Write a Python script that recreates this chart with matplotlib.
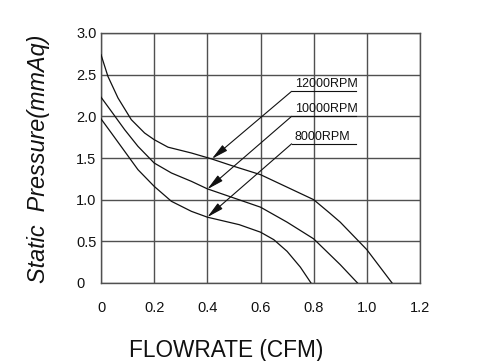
import matplotlib.pyplot as plt

plt.rcParams['font.family'] = ['Liberation Sans', 'DejaVu Sans']

# curve data (flowrate CFM, static pressure mmAq)
x_12000 = [0, 0.026, 0.064, 0.114, 0.164, 0.2, 0.252, 0.34, 0.415, 0.5, 0.6, 0.7, 0.8, 0.86, 0.9, 1.0, 1.095]
p_12000 = [2.74, 2.48, 2.22, 1.96, 1.80, 1.72, 1.63, 1.56, 1.49, 1.40, 1.30, 1.15, 1.00, 0.84, 0.73, 0.40, 0]

x_10000 = [0, 0.039, 0.089, 0.139, 0.2, 0.265, 0.34, 0.4, 0.5, 0.6, 0.7, 0.8, 0.9, 0.965]
p_10000 = [2.23, 2.06, 1.84, 1.64, 1.44, 1.32, 1.22, 1.13, 1.02, 0.91, 0.73, 0.53, 0.22, 0]

x_8000 = [0, 0.039, 0.089, 0.139, 0.2, 0.265, 0.34, 0.4, 0.52, 0.6, 0.65, 0.7, 0.75, 0.79]
p_8000 = [1.97, 1.80, 1.58, 1.36, 1.16, 0.98, 0.86, 0.79, 0.70, 0.61, 0.52, 0.38, 0.19, 0]

labels = ['12000RPM', '10000RPM', '8000RPM']
label_y = [2.30, 2.00, 1.67]       # underline height of each label
tips = [(0.417, 1.49), (0.40, 1.125), (0.40, 0.79)]

x_ticks = [0, 0.2, 0.4, 0.6, 0.8, 1.0, 1.2]
x_ticklabels = ['0', '0.2', '0.4', '0.6', '0.8', '1.0', '1.2']
y_ticks = [0, 0.5, 1.0, 1.5, 2.0, 2.5, 3.0]
y_ticklabels = ['0', '0.5', '1.0', '1.5', '2.0', '2.5', '3.0']

fig = plt.figure(figsize=(4.93, 3.61), dpi=100)
ax = fig.add_axes([101 / 493, 78 / 361, 319 / 493, 250 / 361])

grid_c = '#505050'
for xs, ps in [(x_12000, p_12000), (x_10000, p_10000), (x_8000, p_8000)]:
    ax.plot(xs, ps, color='#111111', lw=0.9, zorder=3)

ax.set_xlim(0, 1.2)
ax.set_ylim(0, 3.0)
ax.set_xticks(x_ticks)
ax.set_xticklabels(x_ticklabels)
ax.set_yticks(y_ticks)
ax.set_yticklabels(y_ticklabels)
ax.grid(True, color=grid_c, lw=1.0)
for s in ax.spines.values():
    s.set_color(grid_c)
    s.set_linewidth(1.0)
ax.tick_params(length=0, labelsize=10.5, colors='#111111')
ax.tick_params(axis='x', pad=13)
ax.tick_params(axis='y', pad=18)
plt.setp(ax.get_yticklabels(), ha='left')

# labels with leader arrows
x0, x1 = 0.717, 0.959
for lab, yl, tip in zip(labels, label_y, tips):
    ax.plot([x0, x1], [yl, yl], color='#111111', lw=0.8, zorder=4)
    ax.text(x0 + 0.012, yl + 0.05, lab, fontsize=9, ha='left', va='baseline',
            color='#111111', zorder=5)
    ax.annotate('', xy=tip, xytext=(x0, yl),
                arrowprops=dict(arrowstyle='-|>,head_length=1.0,head_width=0.22',
                                color='#111111', lw=0.8, shrinkA=0, shrinkB=0),
                zorder=5)

fig.text(226.5 / 493, 4 / 361, 'FLOWRATE (CFM)', fontsize=16.3, ha='center',
         va='baseline', color='#111111')
fig.text(39 / 493, 1 - 159 / 361, 'Static  Pressure(mmAq)', fontsize=16.8,
         style='italic', rotation=90, ha='center', va='center', color='#111111')

fig.savefig('out.png', dpi=100)
